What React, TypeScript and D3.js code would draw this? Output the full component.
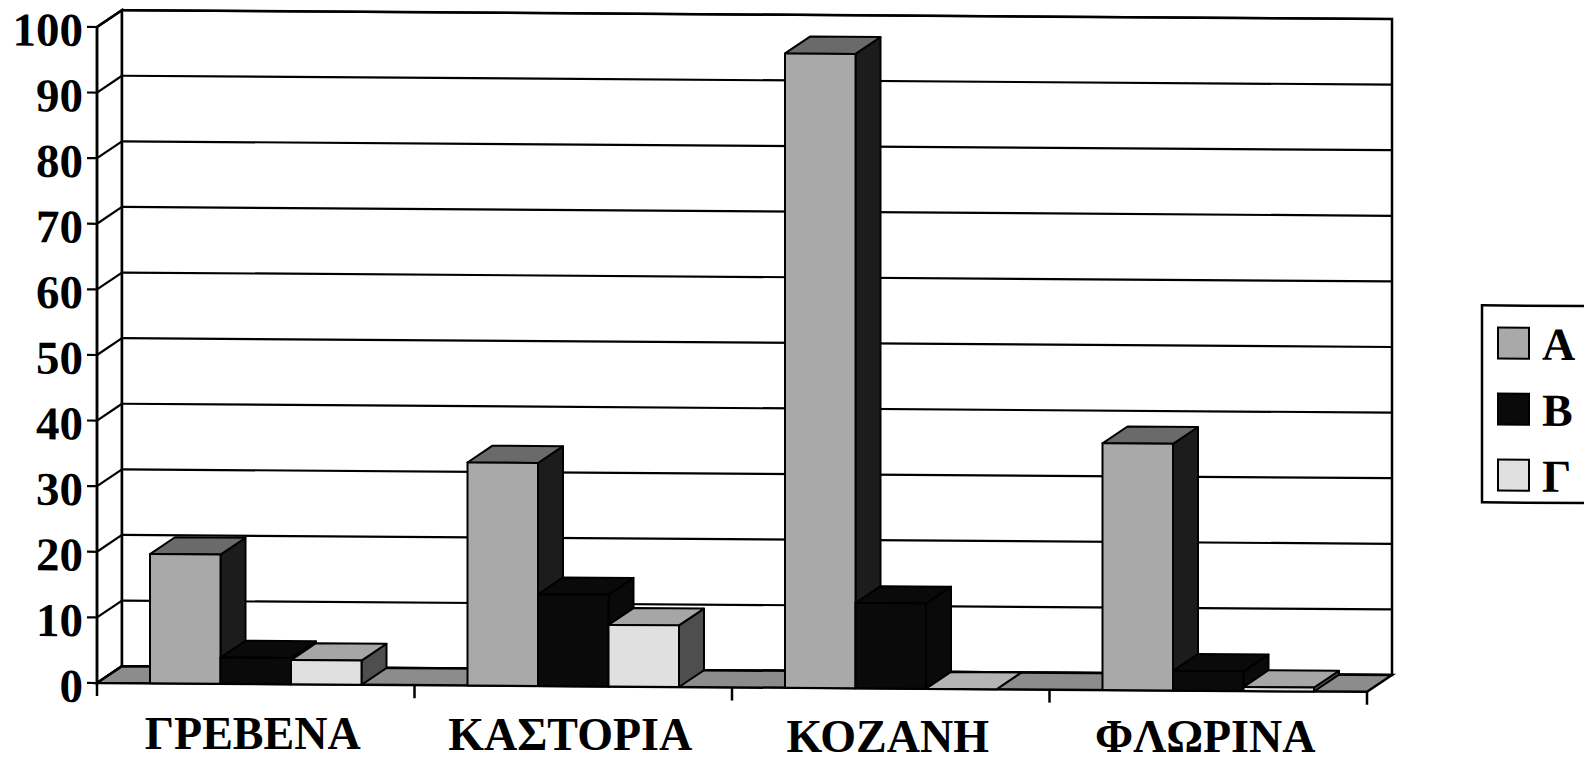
import React from "react";
import * as d3 from "d3";

const categories = ["ΓΡΕΒΕΝΑ", "ΚΑΣΤΟΡΙΑ", "ΚΟΖΑΝΗ", "ΦΛΩΡΙΝΑ"];
const seriesNames = ["A", "B", "Γ"];
const valuesA = [19.7, 34, 96.7, 37.6];
const valuesB = [4, 14, 13, 3];
const valuesG = [3.7, 9.4, 0, 0.6];
const yTicks = [0, 10, 20, 30, 40, 50, 60, 70, 80, 90, 100];

// front, top, side shades for each series (scanned greyscale look)
const shades = [
    { front: "#a9a9a9", top: "#6a6a6a", side: "#1c1c1c" },
    { front: "#0a0a0a", top: "#0a0a0a", side: "#0a0a0a" },
    { front: "#e0e0e0", top: "#a6a6a6", side: "#4e4e4e" },
];

const W = 1584;
const H = 766;
const DX = 25; // depth offset of the 3D box
const DY = 17;
const FONT = "'Liberation Serif', 'Times New Roman', serif";

const pts = (p: number[][]) => p.map((d) => d.join(",")).join(" ");

const App = () => {
    const series = [valuesA, valuesB, valuesG];
    const x = d3.scaleBand().domain(categories).range([97, 1367]).padding(0);
    const inner = d3
        .scaleBand()
        .domain(seriesNames)
        .range([53, x.bandwidth() - 53])
        .padding(0);
    const y = d3.scaleLinear().domain([0, 100]).range([682.3, 26.3]);
    const x0 = x.range()[0];
    const x1 = x.range()[1];
    const y0 = y(0);
    const yMax = y(100);

    const bars: JSX.Element[] = [];
    categories.forEach((cat, i) => {
        seriesNames.forEach((s, j) => {
            const v = series[j][i];
            const bx0 = (x(cat) as number) + (inner(s) as number);
            const bx1 = bx0 + inner.bandwidth();
            const yt = y(v);
            const sh = shades[j];
            bars.push(
                <g key={`${cat}-${s}`} stroke="#000" strokeWidth={2} strokeLinejoin="round">
                    <polygon
                        points={pts([[bx1, yt], [bx1 + DX, yt - DY], [bx1 + DX, y0 - DY], [bx1, y0]])}
                        fill={sh.side}
                    />
                    <polygon
                        points={pts([[bx0, yt], [bx1, yt], [bx1 + DX, yt - DY], [bx0 + DX, yt - DY]])}
                        fill={v === 0 ? "#b4b4b4" : sh.top}
                    />
                    {v > 0 && <rect x={bx0} y={yt} width={bx1 - bx0} height={y0 - yt} fill={sh.front} />}
                </g>
            );
        });
    });

    return (
        <svg
            width={W}
            height={H}
            viewBox={`0 0 ${W} ${H}`}
            style={{ position: "absolute", left: 0, top: 0, background: "#fff" }}
        >
            <g transform="skewY(0.4)">
                {/* side wall and back wall */}
                <polygon
                    points={pts([[x0, y0], [x0, yMax], [x0 + DX, yMax - DY], [x0 + DX, y0 - DY]])}
                    fill="#fff"
                    stroke="#000"
                    strokeWidth={2.5}
                />
                <rect
                    x={x0 + DX}
                    y={yMax - DY}
                    width={x1 - x0}
                    height={y0 - yMax}
                    fill="#fff"
                    stroke="#000"
                    strokeWidth={2.5}
                />
                {yTicks.map((t) => (
                    <g key={t} stroke="#000" strokeWidth={2.2}>
                        <line x1={x0} y1={y(t)} x2={x0 + DX} y2={y(t) - DY} />
                        <line x1={x0 + DX} y1={y(t) - DY} x2={x1 + DX} y2={y(t) - DY} />
                        <line x1={x0 - 10} y1={y(t)} x2={x0} y2={y(t)} />
                    </g>
                ))}
                {/* floor */}
                <polygon
                    points={pts([[x0, y0], [x1, y0], [x1 + DX, y0 - DY], [x0 + DX, y0 - DY]])}
                    fill="#8c8c8c"
                    stroke="#000"
                    strokeWidth={2.5}
                />
                <line x1={x0} y1={yMax} x2={x0} y2={y0 + 13} stroke="#000" strokeWidth={2.5} />
                {categories.map((c) => (
                    <line
                        key={c}
                        x1={(x(c) as number) + x.bandwidth()}
                        y1={y0}
                        x2={(x(c) as number) + x.bandwidth()}
                        y2={y0 + 13}
                        stroke="#000"
                        strokeWidth={2.5}
                    />
                ))}
                {bars}
                {/* axis labels */}
                {yTicks.map((t) => (
                    <text
                        key={`l${t}`}
                        x={x0 - 14}
                        y={y(t) + 19}
                        textAnchor="end"
                        fontFamily={FONT}
                        fontWeight="bold"
                        fontSize={47}
                    >
                        {t}
                    </text>
                ))}
                {/* legend */}
                <rect x={1482} y={295} width={120} height={197} fill="#fff" stroke="#000" strokeWidth={2.5} />
                {seriesNames.map((s, j) => (
                    <g key={`lg${s}`}>
                        <rect
                            x={1498}
                            y={317 + j * 66}
                            width={31}
                            height={31}
                            fill={shades[j].front}
                            stroke="#000"
                            strokeWidth={2}
                        />
                        <text x={1542} y={349 + j * 66} fontFamily={FONT} fontWeight="bold" fontSize={46}>
                            {s}
                        </text>
                    </g>
                ))}
            </g>
            {/* category labels kept outside the skew so they stay inside the frame */}
            {categories.map((c) => {
                const cx = (x(c) as number) + x.bandwidth() / 2 - 3;
                return (
                    <text
                        key={`c${c}`}
                        x={cx}
                        y={Math.min(752, 748 + cx * 0.004)}
                        textAnchor="middle"
                        fontFamily={FONT}
                        fontWeight="bold"
                        fontSize={46}
                    >
                        {c}
                    </text>
                );
            })}
        </svg>
    );
};

export default App;
